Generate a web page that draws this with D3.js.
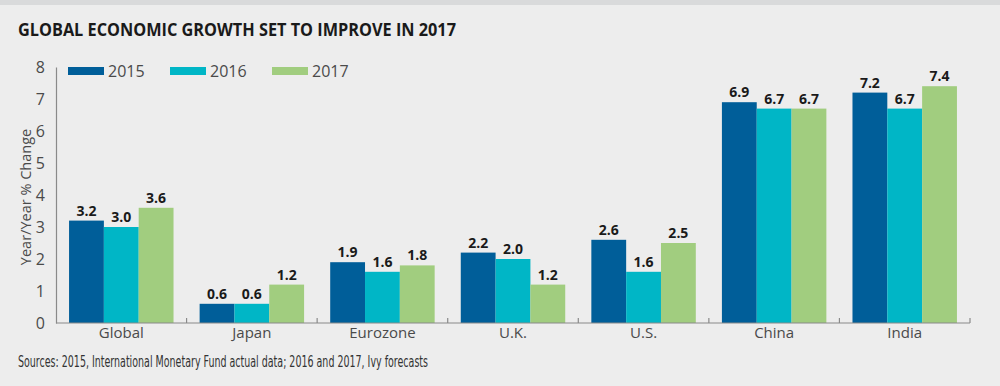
<!DOCTYPE html>
<html>
<head>
<meta charset="utf-8">
<script src="https://cdnjs.cloudflare.com/ajax/libs/d3/7.8.5/d3.min.js"></script>
<style>
  html, body { margin: 0; padding: 0; background: #ededed; }
  svg { display: block; }
</style>
</head>
<body>
<script>
var categories = ["Global", "Japan", "Eurozone", "U.K.", "U.S.", "China", "India"];
var seriesNames = ["2015", "2016", "2017"];
var values2015 = [3.2, 0.6, 1.9, 2.2, 2.6, 6.9, 7.2];
var values2016 = [3.0, 0.6, 1.6, 2.0, 1.6, 6.7, 6.7];
var values2017 = [3.6, 1.2, 1.8, 1.2, 2.5, 6.7, 7.4];
var yTicks = [0, 1, 2, 3, 4, 5, 6, 7, 8];
var colors = ["#005e99", "#00b6c6", "#a1cd7f"];

(function () {
    var width = 1000,
        height = 386,
        plotLeft = 56,
        plotRight = 970,
        plotTop = 67,
        plotBottom = 323;

    var svg = d3.select("body").append("svg")
        .attr("width", width)
        .attr("height", height);

    // background + top band
    svg.append("rect").attr("width", width).attr("height", height).attr("fill", "#ededed");
    svg.append("rect").attr("width", width).attr("height", 5).attr("fill", "#d9dadb");

    svg.append("text")
        .attr("x", 18)
        .attr("y", 36)
        .attr("font-family", "'Open Sans', sans-serif")
        .attr("font-weight", "bold")
        .attr("font-size", "17px")
        .attr("fill", "#1a1a1a")
        .attr("textLength", 438)
        .attr("lengthAdjust", "spacingAndGlyphs")
        .text("GLOBAL ECONOMIC GROWTH SET TO IMPROVE IN 2017");

    var x0 = d3.scaleBand()
        .domain(categories)
        .range([plotLeft, plotRight])
        .paddingInner(0.2)
        .paddingOuter(0.1);

    var x1 = d3.scaleBand()
        .domain(seriesNames)
        .range([0, x0.bandwidth()]);

    var y = d3.scaleLinear()
        .domain([0, 8])
        .range([plotBottom, plotTop]);

    var data = categories.map(function (c, i) {
        return { name: c, vals: [values2015[i], values2016[i], values2017[i]] };
    });

    // y axis
    var yAxis = svg.append("g")
        .attr("transform", "translate(" + plotLeft + ",0)")
        .call(d3.axisLeft(y).tickValues(yTicks).tickSize(0).tickPadding(11).tickFormat(d3.format("d")));
    yAxis.select(".domain").attr("stroke", "#8a8a8a").attr("stroke-width", 1.2);
    yAxis.selectAll("text")
        .attr("font-family", "'Open Sans', sans-serif")
        .attr("font-size", "16px")
        .attr("fill", "#4a4a4a");

    svg.append("text")
        .attr("transform", "translate(31,197) rotate(-90)")
        .attr("text-anchor", "middle")
        .attr("font-family", "'Open Sans', sans-serif")
        .attr("font-size", "14.5px")
        .attr("fill", "#4a4a4a")
        .text("Year/Year % Change");

    // bars
    var groups = svg.selectAll(".cat")
        .data(data)
        .enter().append("g")
        .attr("class", "cat")
        .attr("transform", function (d) { return "translate(" + x0(d.name) + ",0)"; });

    groups.selectAll("rect")
        .data(function (d) { return d.vals; })
        .enter().append("rect")
        .attr("x", function (d, i) { return x1(seriesNames[i]); })
        .attr("width", x1.bandwidth())
        .attr("y", function (d) { return y(d); })
        .attr("height", function (d) { return y(0) - y(d); })
        .attr("fill", function (d, i) { return colors[i]; });

    groups.selectAll(".val")
        .data(function (d) { return d.vals; })
        .enter().append("text")
        .attr("class", "val")
        .attr("x", function (d, i) { return x1(seriesNames[i]) + x1.bandwidth() / 2; })
        .attr("y", function (d) { return y(d) - 5; })
        .attr("text-anchor", "middle")
        .attr("font-family", "'Open Sans', sans-serif")
        .attr("font-weight", "bold")
        .attr("font-size", "14px")
        .attr("fill", "#1a1a1a")
        .text(function (d) { return d.toFixed(1); });

    // x axis with boundary ticks pointing up
    svg.append("line")
        .attr("x1", plotLeft).attr("x2", plotRight)
        .attr("y1", plotBottom).attr("y2", plotBottom)
        .attr("stroke", "#8a8a8a").attr("stroke-width", 1.2);

    var step = x0.step();
    svg.selectAll(".bt")
        .data(categories)
        .enter().append("line")
        .attr("class", "bt")
        .attr("x1", function (d) { return x0(d) - x0.paddingOuter() * step + step; })
        .attr("x2", function (d) { return x0(d) - x0.paddingOuter() * step + step; })
        .attr("y1", plotBottom).attr("y2", plotBottom - 5)
        .attr("stroke", "#8a8a8a").attr("stroke-width", 1.2);

    svg.selectAll(".cl")
        .data(categories)
        .enter().append("text")
        .attr("class", "cl")
        .attr("x", function (d) { return x0(d) + x0.bandwidth() / 2; })
        .attr("y", 338)
        .attr("text-anchor", "middle")
        .attr("font-family", "'Open Sans', sans-serif")
        .attr("font-size", "15px")
        .attr("fill", "#4a4a4a")
        .text(function (d) { return d; });

    // legend
    var legend = svg.selectAll(".lg")
        .data(seriesNames)
        .enter().append("g")
        .attr("class", "lg")
        .attr("transform", function (d, i) { return "translate(" + (68 + i * 102) + ",67)"; });
    legend.append("rect")
        .attr("width", 36).attr("height", 8)
        .attr("fill", function (d, i) { return colors[i]; });
    legend.append("text")
        .attr("x", 40).attr("y", 10)
        .attr("font-family", "'Open Sans', sans-serif")
        .attr("font-size", "16px")
        .attr("fill", "#4a4a4a")
        .text(function (d) { return d; });

    svg.append("text")
        .attr("x", 18)
        .attr("y", 367)
        .attr("font-family", "'Liberation Sans Narrow', 'DejaVu Sans Condensed', sans-serif")
        .attr("font-size", "15px")
        .attr("fill", "#333")
        .attr("textLength", 410)
        .attr("lengthAdjust", "spacingAndGlyphs")
        .text("Sources: 2015, International Monetary Fund actual data; 2016 and 2017, Ivy forecasts");
})();
</script>
</body>
</html>
